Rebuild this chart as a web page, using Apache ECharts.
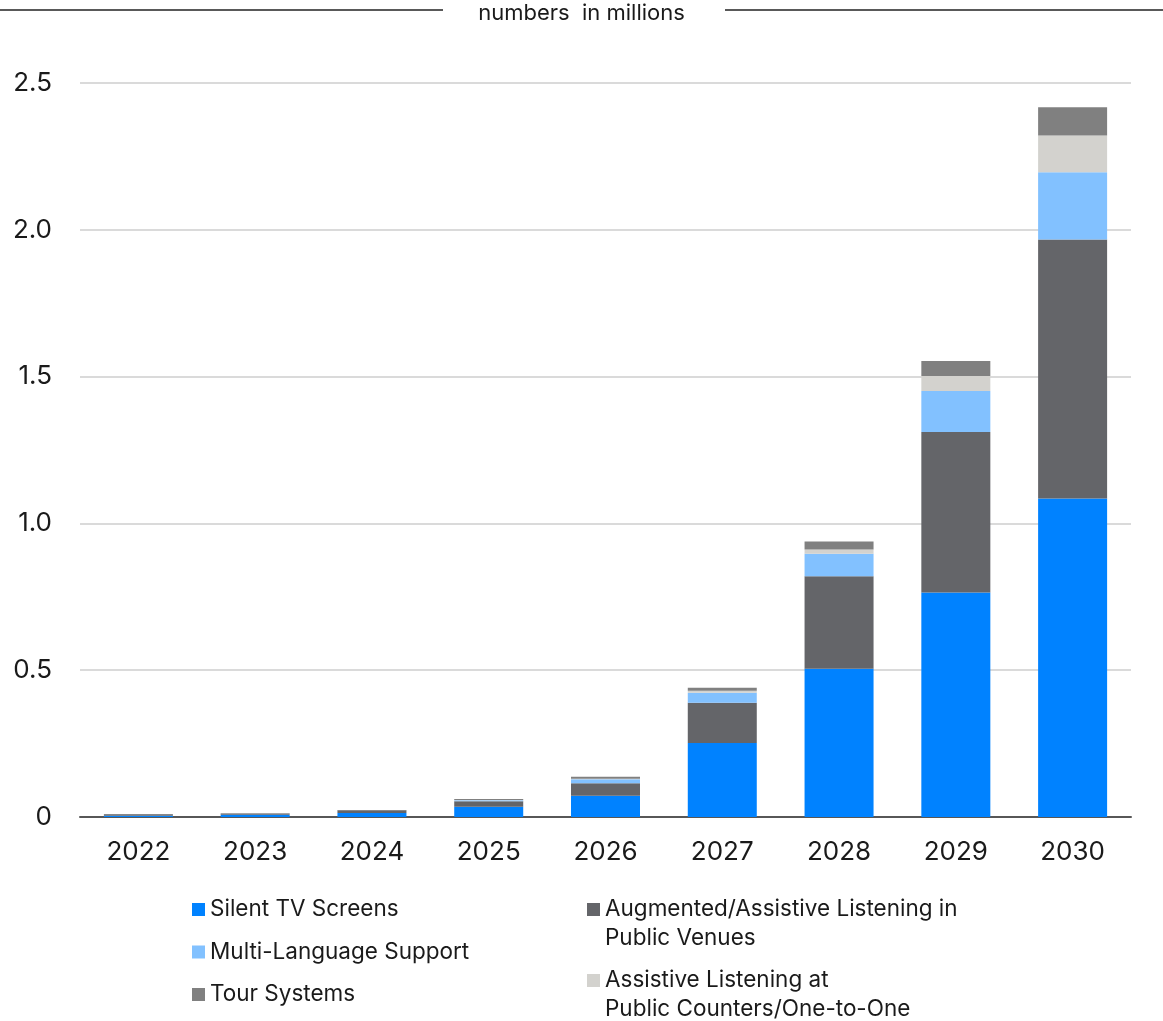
<!DOCTYPE html>
<html>
<head>
<meta charset="utf-8">
<title>Numbers in millions</title>
<script src="https://cdn.jsdelivr.net/npm/echarts@6/dist/echarts.min.js"></script>
<style>
  html, body { margin: 0; padding: 0; background: #fff; }
  #chart { width: 1163px; height: 1021px; }
</style>
</head>
<body>
<div id="chart"></div>
<script>
// Years on the category axis
const years = ['2022', '2023', '2024', '2025', '2026', '2027', '2028', '2029', '2030'];

// Units per segment, in millions (stacked bottom to top)
const silentTv     = [0.004, 0.008, 0.014, 0.035, 0.072, 0.252, 0.505, 0.765, 1.085];
const publicVenues = [0.005, 0.004, 0.009, 0.019, 0.043, 0.137, 0.315, 0.546, 0.882];
const multiLang    = [0.000, 0.000, 0.000, 0.003, 0.014, 0.034, 0.077, 0.140, 0.229];
const counters     = [0.000, 0.000, 0.000, 0.001, 0.001, 0.007, 0.014, 0.051, 0.125];
const tour         = [0.001, 0.001, 0.001, 0.003, 0.007, 0.010, 0.027, 0.051, 0.096];

// Y-axis tick labels
const yTicks = ['0', '0.5', '1.0', '1.5', '2.0', '2.5'];

const FONT = 'Inter, "Noto Sans", sans-serif';
const TEXT = '#1a1a1a';

const names = {
  tv: 'Silent TV Screens',
  venues: 'Augmented/Assistive Listening in\nPublic Venues',
  lang: 'Multi-Language Support',
  counters: 'Assistive Listening at\nPublic Counters/One-to-One',
  tour: 'Tour Systems'
};

function bar(name, data, color) {
  return {
    name, type: 'bar', stack: 'total', data,
    barWidth: 69,
    itemStyle: { color },
    emphasis: { disabled: true }
  };
}

const legendBase = {
  orient: 'vertical',
  padding: 0,
  itemWidth: 13,
  itemHeight: 13,
  icon: 'rect',
  selectedMode: false,
  textStyle: { fontFamily: FONT, fontSize: 22.5, color: TEXT, lineHeight: 29 }
};

// Two-line entries: a blank first line keeps the swatch level with the first text line
const twoLine = (name) => '\n' + name;

const chart = echarts.init(document.getElementById('chart'), null, { renderer: 'canvas' });

chart.setOption({
  animation: false,
  backgroundColor: '#fff',
  title: {
    text: 'numbers  in millions',
    left: 'center',
    top: 1,
    padding: 0,
    textStyle: { fontFamily: FONT, fontSize: 22, fontWeight: 'normal', color: TEXT, lineHeight: 24 }
  },
  graphic: [
    { type: 'line', shape: { x1: 0, y1: 10, x2: 443, y2: 10 }, style: { stroke: '#222', lineWidth: 1.5 } },
    { type: 'line', shape: { x1: 725, y1: 10, x2: 1163, y2: 10 }, style: { stroke: '#222', lineWidth: 1.5 } }
  ],
  grid: { left: 80, top: 83, width: 1051, height: 734, containLabel: false },
  xAxis: {
    type: 'category',
    data: years,
    axisLine: { show: true, lineStyle: { color: '#575757', width: 2 } },
    axisTick: { show: false },
    axisLabel: { fontFamily: FONT, fontSize: 26, color: TEXT, margin: 22 }
  },
  yAxis: {
    type: 'value',
    min: 0, max: 2.5, interval: 0.5,
    axisLine: { show: false },
    axisTick: { show: false },
    splitLine: { lineStyle: { color: '#dadada', width: 2 } },
    axisLabel: {
      fontFamily: FONT, fontSize: 26, color: TEXT, margin: 28,
      formatter: (v) => yTicks[Math.round(v / 0.5)]
    }
  },
  legend: [
    Object.assign({}, legendBase, {
      left: 192, top: 895, itemGap: 13.5,
      data: [names.tv, names.lang, names.tour]
    }),
    Object.assign({}, legendBase, {
      left: 587, top: 866,
      data: [names.venues],
      formatter: twoLine
    }),
    Object.assign({}, legendBase, {
      left: 587, top: 937,
      data: [names.counters],
      formatter: twoLine
    })
  ],
  series: [
    bar(names.tv, silentTv, '#0082ff'),
    bar(names.venues, publicVenues, '#646569'),
    bar(names.lang, multiLang, '#82c1ff'),
    bar(names.counters, counters, '#d3d2ce'),
    bar(names.tour, tour, '#808080')
  ]
});
</script>
</body>
</html>
